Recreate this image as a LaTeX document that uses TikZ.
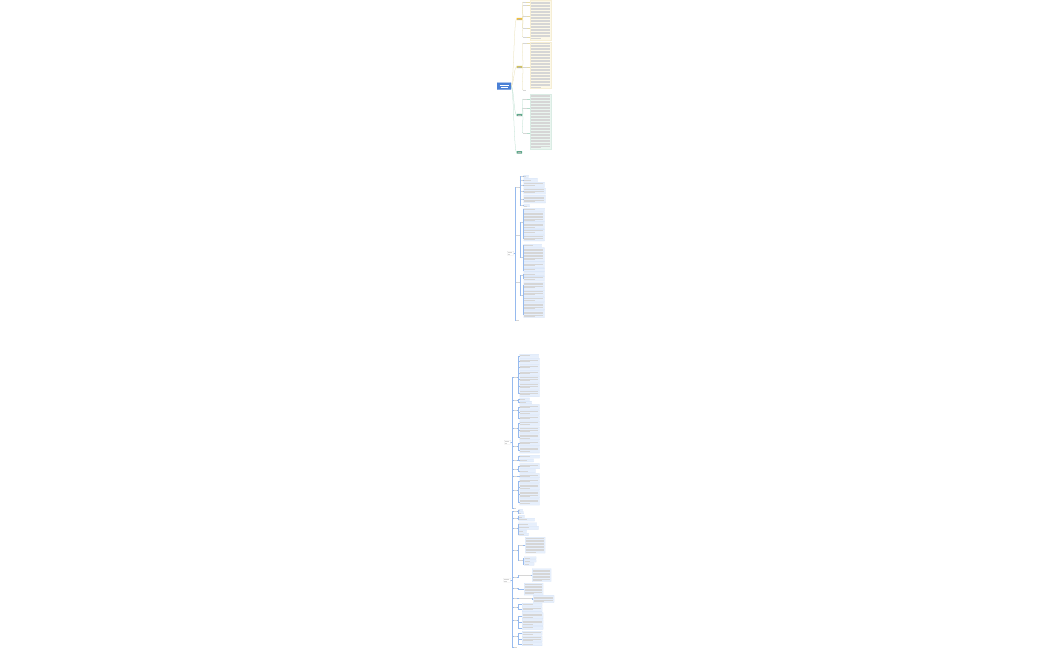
\documentclass[tikz,border=0pt]{standalone}
\usetikzlibrary{calc}
\definecolor{rootblue}{RGB}{74,128,214}
\definecolor{byel}{RGB}{240,192,64}
\definecolor{bolive}{RGB}{208,194,96}
\definecolor{bgreen}{RGB}{95,170,140}
\definecolor{beige}{RGB}{252,248,232}
\definecolor{beigeB}{RGB}{246,238,212}
\definecolor{mint}{RGB}{233,245,239}
\definecolor{mintB}{RGB}{218,236,228}
\definecolor{lblue}{RGB}{230,239,252}
\definecolor{lblueB}{RGB}{200,217,243}
\definecolor{spblue}{RGB}{150,186,238}
\definecolor{cyel}{RGB}{230,220,170}
\definecolor{cgrn}{RGB}{180,220,202}
\tikzset{
  txt/.style={line width=0.2mm, draw=black!16},
  wtxt/.style={line width=0.45mm, draw=white},
  rootst/.style={fill=rootblue, draw=rootblue, rounded corners=0.4mm, inner sep=0},
  bst/.style={draw=none, rounded corners=0.3mm, inner sep=0},
  lbl/.style={inner sep=0, draw=none},
  pan1/.style={fill=beige, draw=beigeB, line width=0.2mm, inner sep=0},
  pan3/.style={fill=mint, draw=mintB, line width=0.2mm, inner sep=0},
  leaf/.style={fill=lblue, draw=lblueB, line width=0.2mm, rounded corners=0.2mm, inner sep=0},
  labbox/.style={fill=white, draw=black!22, line width=0.2mm, rounded corners=0.3mm, inner sep=0},
  cy/.style={draw=cyel, line width=0.26mm},
  cg/.style={draw=cgrn, line width=0.26mm},
  sp/.style={draw=spblue, line width=0.24mm},
}
% text box: name, x, y, w, h, node style, text-line style
\newcommand\tb[7]{%
  \node[#6, minimum width=#4mm, minimum height=#5mm, anchor=north west] (#1) at (#2,#3) {};
  \pgfmathtruncatemacro\tbnum{max(1,(#5-0.9)/1.5)}%
  \foreach \k in {1,...,\tbnum}{%
    \pgfmathsetmacro\tbll{ifthenelse(\k==\tbnum,0.55,1)*(#4-2)}%
    \draw[#7] ({#2+0.8},{#3+\k*1.5-0.2}) -- ++(\tbll,0);
  }%
}
% label: name, x(west), y, w, line style
\newcommand\lb[5]{%
  \node[lbl, minimum width=#4mm, minimum height=1.4mm, anchor=west] (#1) at (#2,#3) {};
  \draw[#5] (#1.west) -- (#1.east);
}
\newcommand\cv[3]{\draw[#1] (#2.east) .. controls +(2.5,0) and +(-2.5,0) .. (#3.west);}
\newcommand\br[3]{\draw[#1] (#2.east) -- ++(0.7,0) |- (#3.west);}
\begin{document}
\begin{tikzpicture}[x=1mm, y=-1mm]
\useasboundingbox[fill=white] (0,0) rectangle (1050,650);

% ================= Section 1 =================
\tb{P1}{530}{0.3}{21}{39.5}{pan1}{txt}
\tb{P2}{530}{42}{21}{46}{pan1}{txt}
\tb{P3}{530}{93.5}{21}{55}{pan3}{txt}

\node[rootst, minimum width=14mm, minimum height=7mm, anchor=north west] (root) at (497,82.5) {};
\draw[wtxt] (499.5,84.8) -- (508.5,84.8);
\draw[wtxt] (500.5,87.3) -- (507.5,87.3);

\node[bst, fill=byel, minimum width=5.5mm, minimum height=2.4mm] (B1) at (519.3,19) {};
\node[bst, fill=bolive, minimum width=5.5mm, minimum height=2.4mm] (B2) at (519.3,67) {};
\node[bst, fill=bgreen, minimum width=5.5mm, minimum height=2.4mm] (B3) at (519.3,115) {};
\node[bst, fill=bgreen, minimum width=5.5mm, minimum height=2.4mm] (B4) at (519.3,152.3) {};
\foreach \b in {B1,B2,B3,B4}{\draw[line width=0.25mm, draw=black!30] ($(\b.west)+(1.2mm,0)$) -- ($(\b.east)+(-1.2mm,0)$);}

\cv{cy}{root}{B1}
\cv{cy}{root}{B2}
\cv{cg}{root}{B3}
\cv{cg}{root}{B4}

\lb{s11}{523}{2}{3}{txt}
\lb{s12}{523}{5.5}{4}{txt}
\lb{s13}{523}{16}{4}{txt}
\lb{s14}{523}{28}{4}{txt}
\lb{s15}{523}{37}{4}{txt}
\lb{s21}{523}{43}{4}{txt}
\lb{s22}{523}{67}{4}{txt}
\lb{s23}{523}{90}{3}{txt}
\lb{s31}{523}{99}{4}{txt}
\lb{s32}{523}{108}{4}{txt}
\lb{s33}{523}{133}{4}{txt}
\foreach \s in {s11,s12,s13,s14,s15}{\cv{cy}{B1}{\s}}
\foreach \s in {s21,s22,s23}{\cv{cy}{B2}{\s}}
\foreach \s in {s31,s32,s33}{\cv{cg}{B3}{\s}}
\foreach \s in {s11,s12,s13,s14,s15}{\draw[cy] (\s.east) -- (\s.east -| P1.west);}
\foreach \s in {s21,s22}{\draw[cy] (\s.east) -- (\s.east -| P2.west);}
\foreach \s in {s31,s32,s33}{\draw[cg] (\s.east) -- (\s.east -| P3.west);}

% ================= Section 2 =================
\tb{L2}{507}{251}{6.5}{4}{labbox}{txt}
\lb{Ab}{516}{187}{3.5}{txt}
\lb{Bb}{516}{235}{3.5}{txt}
\lb{Cb}{516}{282}{3.5}{txt}
\lb{Db}{516}{320}{2.5}{txt}
\foreach \b in {Ab,Bb,Cb,Db}{\draw[sp] (L2.east) -- ++(1,0) |- (\b.west);}

\lb{a1}{519.7}{176}{2.8}{txt}
\lb{a2}{519.7}{180}{2.8}{txt}
\lb{a3}{519.7}{185}{2.8}{txt}
\lb{a4}{519.7}{191}{2.8}{txt}
\lb{a5}{519.7}{199}{2.8}{txt}
\lb{a6}{519.7}{205.5}{2.8}{txt}
\foreach \s in {a1,a2,a3,a4,a5,a6}{\br{sp}{Ab}{\s}}
\tb{a1L}{523.5}{175}{5}{2.2}{leaf}{txt}
\tb{a2L}{523.5}{178.3}{14}{3.2}{leaf}{txt}
\tb{a3L}{523.5}{182.2}{21}{5}{leaf}{txt}
\tb{a4L}{523.5}{188}{22}{6}{leaf}{txt}
\tb{a5L}{523.5}{195.3}{22}{7.5}{leaf}{txt}
\tb{a6L}{523.5}{204.4}{6}{2.2}{leaf}{txt}
\foreach \s in {a1,a2,a3,a4,a5,a6}{\draw[sp] (\s.east) -- (\s.east -| \s L.west);}

\lb{b1}{519.7}{222}{2.8}{txt}
\lb{b2}{519.7}{257}{2.8}{txt}
\br{sp}{Bb}{b1}
\br{sp}{Bb}{b2}
\tb{b1L1}{523.5}{208}{21}{3}{leaf}{txt}
\tb{b1L2}{523.5}{211.7}{21}{10}{leaf}{txt}
\tb{b1L3}{523.5}{222.4}{21}{6}{leaf}{txt}
\tb{b1L4}{523.5}{229.1}{21}{5}{leaf}{txt}
\tb{b1L5}{523.5}{234.8}{21}{6}{leaf}{txt}
\foreach \s in {b1L1,b1L2,b1L3,b1L4,b1L5}{\br{sp}{b1}{\s}}
\tb{b2L1}{523.5}{244}{18}{3}{leaf}{txt}
\tb{b2L2}{523.5}{247.7}{21}{14}{leaf}{txt}
\tb{b2L3}{523.5}{262.4}{21}{5}{leaf}{txt}
\tb{b2L4}{523.5}{268.1}{21}{3.6}{leaf}{txt}
\foreach \s in {b2L1,b2L2,b2L3,b2L4}{\br{sp}{b2}{\s}}

\lb{c1}{519.7}{275}{2.8}{txt}
\lb{c2}{519.7}{295}{2.8}{txt}
\br{sp}{Cb}{c1}
\br{sp}{Cb}{c2}
\tb{c1L1}{523.5}{272.4}{21}{3}{leaf}{txt}
\tb{c1L2}{523.5}{276.1}{21}{4.2}{leaf}{txt}
\foreach \s in {c1L1,c1L2}{\br{sp}{c1}{\s}}
\tb{c2L1}{523.5}{281.5}{21}{8}{leaf}{txt}
\tb{c2L2}{523.5}{290.2}{21}{6}{leaf}{txt}
\tb{c2L3}{523.5}{296.9}{21}{5}{leaf}{txt}
\tb{c2L4}{523.5}{302.6}{21}{7}{leaf}{txt}
\tb{c2L5}{523.5}{310.3}{21}{7}{leaf}{txt}
\foreach \s in {c2L1,c2L2,c2L3,c2L4,c2L5}{\br{sp}{c2}{\s}}

% ================= Section 3 =================
\tb{L3}{504}{440}{6.5}{4}{labbox}{txt}
\lb{T1}{513.5}{377}{3.5}{txt}
\lb{T2}{513.5}{400.5}{3.5}{txt}
\lb{T3}{513.5}{410}{3.5}{txt}
\lb{T4}{513.5}{428}{3.5}{txt}
\lb{T5}{513.5}{446}{3.5}{txt}
\lb{T6}{513.5}{460}{3.5}{txt}
\lb{T7}{513.5}{469}{3.5}{txt}
\lb{T8}{513.5}{476}{3.5}{txt}
\lb{T9}{513.5}{490}{3.5}{txt}
\lb{T10}{513.5}{508}{2.5}{txt}
\foreach \b in {T1,T2,T3,T4,T5,T6,T7,T8,T9,T10}{\draw[sp] (L3.east) -- ++(1,0) |- (\b.west);}

\tb{t1a}{519.5}{354}{19}{3.5}{leaf}{txt}
\tb{t1b}{519.5}{358.3}{20}{5.2}{leaf}{txt}
\tb{t1c}{519.5}{364.3}{20}{5.2}{leaf}{txt}
\tb{t1d}{519.5}{370.3}{20}{4.8}{leaf}{txt}
\tb{t1e}{519.5}{375.9}{20}{6.2}{leaf}{txt}
\tb{t1f}{519.5}{382.9}{20}{6.2}{leaf}{txt}
\tb{t1g}{519.5}{389.9}{20}{6.5}{leaf}{txt}
\foreach \s in {t1a,t1b,t1c,t1d,t1e,t1f,t1g}{\br{sp}{T1}{\s}}
\tb{t2a}{519.5}{397.8}{10}{2.5}{leaf}{txt}
\tb{t2b}{519.5}{401.1}{12}{2.5}{leaf}{txt}
\foreach \s in {t2a,t2b}{\br{sp}{T2}{\s}}
\tb{t3a}{519.5}{404.6}{20}{4.5}{leaf}{txt}
\tb{t3b}{519.5}{409.9}{20}{5}{leaf}{txt}
\tb{t3c}{519.5}{415.7}{20}{4.5}{leaf}{txt}
\foreach \s in {t3a,t3b,t3c}{\br{sp}{T3}{\s}}
\tb{t4a}{519.5}{421}{20}{5}{leaf}{txt}
\tb{t4b}{519.5}{426.8}{20}{6}{leaf}{txt}
\tb{t4c}{519.5}{433.6}{20}{6}{leaf}{txt}
\foreach \s in {t4a,t4b,t4c}{\br{sp}{T4}{\s}}
\tb{t5a}{519.5}{440.6}{20}{5}{leaf}{txt}
\tb{t5b}{519.5}{446.4}{20}{6.5}{leaf}{txt}
\foreach \s in {t5a,t5b}{\br{sp}{T5}{\s}}
\tb{t6a}{519.5}{455}{20}{3}{leaf}{txt}
\tb{t6b}{519.5}{458.8}{14}{3}{leaf}{txt}
\foreach \s in {t6a,t6b}{\br{sp}{T6}{\s}}
\tb{t7a}{519.5}{463.6}{20}{5}{leaf}{txt}
\tb{t7b}{519.5}{469.4}{16}{3}{leaf}{txt}
\foreach \s in {t7a,t7b}{\br{sp}{T7}{\s}}
\tb{t8a}{519.5}{473.6}{20}{4}{leaf}{txt}
\br{sp}{T8}{t8a}
\tb{t9a}{519.5}{478.6}{20}{4.2}{leaf}{txt}
\tb{t9b}{519.5}{483.6}{20}{6.2}{leaf}{txt}
\tb{t9c}{519.5}{490.6}{20}{7.2}{leaf}{txt}
\tb{t9d}{519.5}{498.6}{20}{6.4}{leaf}{txt}
\foreach \s in {t9a,t9b,t9c,t9d}{\br{sp}{T9}{\s}}

% ================= Section 4 =================
\tb{L4}{503.5}{578}{7}{4}{labbox}{txt}
\lb{U1}{514}{511}{3}{txt}
\lb{U2}{514}{518}{3}{txt}
\lb{U3}{514}{528}{3}{txt}
\lb{U4}{514}{550}{3}{txt}
\lb{U5}{514}{577}{3}{txt}
\lb{U6}{514}{588}{3}{txt}
\lb{U7}{514}{598.5}{3}{txt}
\lb{U8}{514}{607}{3}{txt}
\lb{U9}{514}{620}{3}{txt}
\lb{U10}{514}{636}{3}{txt}
\lb{U11}{514}{647}{2.5}{txt}
\foreach \b in {U1,U2,U3,U4,U5,U6,U7,U8,U9,U10,U11}{\draw[sp] (L4.east) -- ++(1,0) |- (\b.west);}

\tb{u1a}{518.5}{509}{4}{2}{leaf}{txt}
\tb{u1b}{518.5}{511.6}{5}{2}{leaf}{txt}
\foreach \s in {u1a,u1b}{\br{sp}{U1}{\s}}
\tb{u2a}{518.5}{515.3}{6}{2}{leaf}{txt}
\tb{u2b}{518.5}{518}{16}{3}{leaf}{txt}
\foreach \s in {u2a,u2b}{\br{sp}{U2}{\s}}
\tb{u3a}{518.5}{522.5}{18}{3}{leaf}{txt}
\tb{u3b}{518.5}{526.2}{20}{3}{leaf}{txt}
\tb{u3c}{518.5}{529.9}{8}{2.4}{leaf}{txt}
\tb{u3d}{518.5}{533}{10}{2.4}{leaf}{txt}
\foreach \s in {u3a,u3b,u3c,u3d}{\br{sp}{U3}{\s}}
\lb{v1}{518.5}{545}{4}{txt}
\lb{v2}{518.5}{560}{4}{txt}
\br{sp}{U4}{v1}
\br{sp}{U4}{v2}
\tb{v1a}{525}{537}{20}{16}{leaf}{txt}
\br{sp}{v1}{v1a}
\tb{v2a}{524}{556.5}{12}{2.4}{leaf}{txt}
\tb{v2b}{524}{559.6}{12}{2.4}{leaf}{txt}
\tb{v2c}{524}{562.7}{10}{2.4}{leaf}{txt}
\foreach \s in {v2a,v2b,v2c}{\br{sp}{v2}{\s}}
\lb{v3}{518.5}{575}{12}{txt}
\br{sp}{U5}{v3}
\tb{v3a}{532}{568.5}{19}{13}{leaf}{txt}
\br{sp}{v3}{v3a}
\tb{u6a}{524}{583}{19}{12}{leaf}{txt}
\br{sp}{U6}{u6a}
\lb{v4}{518.5}{598.5}{13}{txt}
\br{sp}{U7}{v4}
\tb{u7a}{533}{595.3}{21}{7}{leaf}{txt}
\br{sp}{v4}{u7a}
\tb{u8a}{522}{603}{20}{3}{leaf}{txt}
\tb{u8b}{522}{606.7}{20}{5}{leaf}{txt}
\foreach \s in {u8a,u8b}{\br{sp}{U8}{\s}}
\tb{u9a}{522}{612.6}{21}{6}{leaf}{txt}
\tb{u9b}{522}{619.4}{21}{6}{leaf}{txt}
\tb{u9c}{522}{626.2}{21}{3}{leaf}{txt}
\foreach \s in {u9a,u9b,u9c}{\br{sp}{U9}{\s}}
\tb{u10a}{522}{631}{20}{4}{leaf}{txt}
\tb{u10b}{522}{635.8}{20}{6}{leaf}{txt}
\tb{u10c}{522}{642.6}{20}{3}{leaf}{txt}
\foreach \s in {u10a,u10b,u10c}{\br{sp}{U10}{\s}}
\end{tikzpicture}
\end{document}
